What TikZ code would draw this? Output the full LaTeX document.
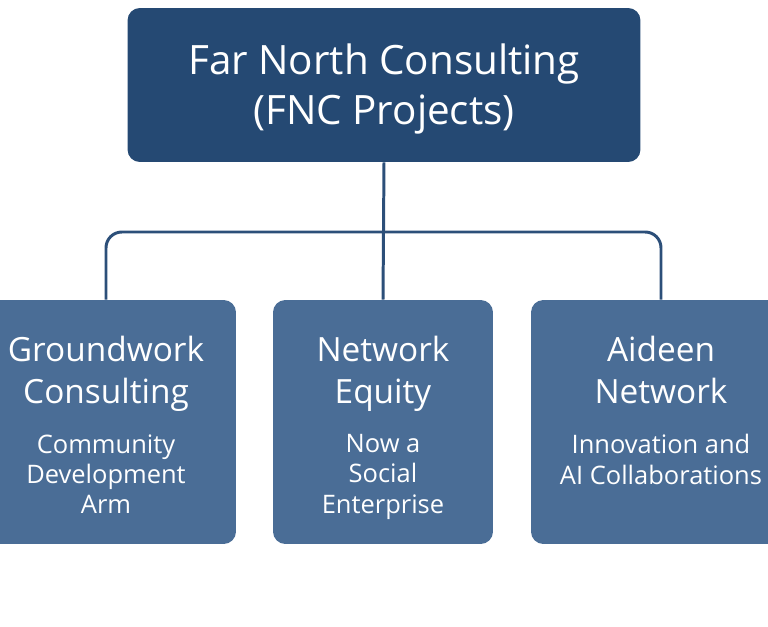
\documentclass[tikz,border=0pt]{standalone}
\usepackage{fontspec}
\setmainfont{Open Sans}
\usepackage{tikz}
\usetikzlibrary{positioning}
\definecolor{headblue}{RGB}{37,73,115}
\definecolor{armblue}{RGB}{74,109,150}
\definecolor{linkblue}{RGB}{44,79,121}

\begin{document}
\begin{tikzpicture}[x=0.02cm, y=-0.02cm, node distance=6mm,
  head/.style={draw=none,rounded corners=7pt,fill=headblue,minimum width=10.26cm,minimum height=3.08cm},
  headtext/.style={text=white,align=center,inner sep=0pt,font=\fontsize{23}{28.5}\selectfont},
  arm/.style={draw=none,rounded corners=7pt,fill=armblue,minimum height=4.88cm},
  armtitle/.style={text=white,align=center,inner sep=0pt,text depth=4.6pt,font=\fontsize{19}{24}\selectfont},
  armsub/.style={text=white,align=center,inner sep=0pt,font=\fontsize{14.5}{17.3}\selectfont},
  link/.style={draw=linkblue,line width=1.7pt}]
\useasboundingbox (0,0) rectangle (768,626);
\node[head] (fnc) at (384,85) {};
\node[headtext] (fnct) at (384,89) {Far North Consulting\\(FNC Projects)};
\node[arm,minimum width=5.2cm] (gw) at (106,422) {};
\node[arm,minimum width=4.4cm] (ne) at (383,422) {};
\node[arm,minimum width=5.2cm] (an) at (661,422) {};
\node[armtitle,below=0.72cm of gw.north] (gwt) {Groundwork\\Consulting};
\node[armsub,below=0.44cm of gwt] (gws) {Community\\Development\\Arm};
\node[armtitle,below=0.72cm of ne.north] (net) {Network\\Equity};
\node[armsub,below=0.44cm of net] (nes) {Now a\\Social\\Enterprise};
\node[armtitle,below=0.72cm of an.north] (ant) {Aideen\\Network};
\node[armsub,below=0.44cm of ant] (ans) {Innovation and\\AI Collaborations};
\coordinate (bar) at (384,232);
\draw[link] (fnc.south) -- (ne.north);
\draw[link,rounded corners=9pt] (gw.north) |- (bar) -| (an.north);
\end{tikzpicture}
\end{document}
